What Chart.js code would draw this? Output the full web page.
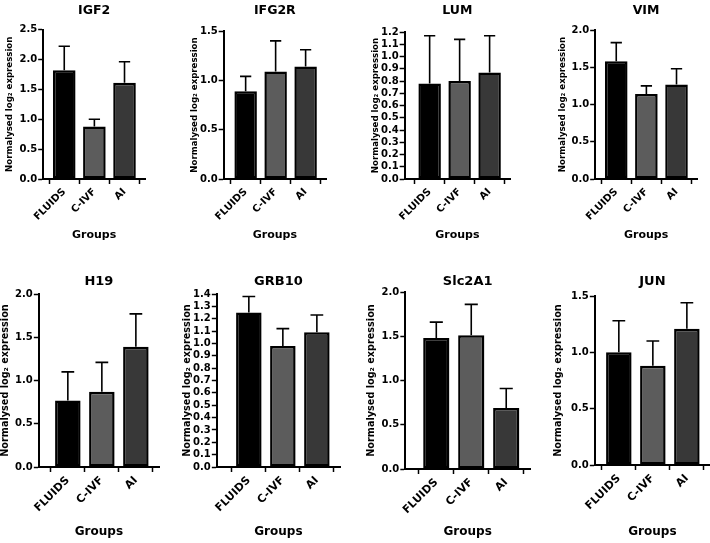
<!DOCTYPE html>
<html>
<head>
<meta charset="utf-8">
<script src="https://cdn.jsdelivr.net/npm/chart.js@4.4.1/dist/chart.umd.min.js"></script>
<style>
  html, body { margin: 0; padding: 0; background: #fff; overflow: hidden; }
  body { width: 710px; height: 543px; position: relative; }
  canvas { position: absolute; }
</style>
</head>
<body>
<script>
// ---------- data ----------
const categories = ['FLUIDS', 'C-IVF', 'AI'];
const geneNames = ['IGF2', 'IFG2R', 'LUM', 'VIM', 'H19', 'GRB10', 'Slc2A1', 'JUN'];

const igf2Mean   = [1.82, 0.88, 1.61];  const igf2Sd   = [0.40, 0.12, 0.35];
const ifg2rMean  = [0.89, 1.09, 1.14];  const ifg2rSd  = [0.15, 0.31, 0.17];
const lumMean    = [0.78, 0.80, 0.87];  const lumSd    = [0.39, 0.34, 0.30];
const vimMean    = [1.58, 1.14, 1.27];  const vimSd    = [0.25, 0.11, 0.21];
const h19Mean    = [0.77, 0.87, 1.39];  const h19Sd    = [0.33, 0.34, 0.38];
const grb10Mean  = [1.25, 0.98, 1.09];  const grb10Sd  = [0.13, 0.14, 0.14];
const slc2a1Mean = [1.48, 1.51, 0.69];  const slc2a1Sd = [0.18, 0.35, 0.22];
const junMean    = [1.00, 0.88, 1.21];  const junSd    = [0.28, 0.22, 0.23];

const yAxisMax  = [2.5, 1.5, 1.2, 2.0, 2.0, 1.4, 2.0, 1.5];
const yAxisStep = [0.5, 0.5, 0.1, 0.5, 0.5, 0.1, 0.5, 0.5];

const yTitle = 'Normalysed log\u2082 expression';
const xTitle = 'Groups';

const allMeans = [igf2Mean, ifg2rMean, lumMean, vimMean, h19Mean, grb10Mean, slc2a1Mean, junMean];
const allSds   = [igf2Sd, ifg2rSd, lumSd, vimSd, h19Sd, grb10Sd, slc2a1Sd, junSd];

// ---------- layout (page pixel geometry of each panel) ----------
const barColors = ['#000000', '#5c5c5c', '#383838'];
const FONT = '"DejaVu Sans", "Liberation Sans", Arial, sans-serif';

const rows = [
  { ct: 0,   cb: 250, titleC: 11,  groupsC: 235, titleSize: 12.5, yTitleSize: 8.6, tickSize: 10, xTickSize: 10, groupsSize: 11 },
  { ct: 270, cb: 543, titleC: 282, groupsC: 532, titleSize: 13,   yTitleSize: 9.7, tickSize: 10, xTickSize: 11, groupsSize: 12 }
];
const panelLayout = [
  { row: 0, pl: 43,  pt: 29.5, pb: 179, sp: 30, fo: 21, yc: 10 },
  { row: 0, pl: 224, pt: 31,   pb: 179, sp: 30, fo: 22, yc: 195.5 },
  { row: 0, pl: 405, pt: 32,   pb: 179, sp: 30, fo: 25, yc: 376.5 },
  { row: 0, pl: 595, pt: 30,   pb: 179, sp: 30, fo: 21, yc: 563 },
  { row: 1, pl: 39,  pt: 294,  pb: 467, sp: 34, fo: 29, yc: 6 },
  { row: 1, pl: 217, pt: 294,  pb: 467, sp: 34, fo: 32, yc: 188 },
  { row: 1, pl: 405, pt: 292,  pb: 469, sp: 35, fo: 31, yc: 371.5 },
  { row: 1, pl: 595, pt: 296,  pb: 465, sp: 34, fo: 24, yc: 559 }
];
const X_MAX_EXTRA = 0.68;

// ---------- error bar plugin ----------
const errorBarsPlugin = {
  id: 'errorBars',
  afterDatasetsDraw(chart, args, opts) {
    const ctx = chart.ctx;
    const yScale = chart.scales.y;
    const ds = chart.data.datasets[0];
    const meta = chart.getDatasetMeta(0);
    ctx.save();
    ctx.strokeStyle = '#000';
    ctx.lineWidth = 1.6;
    meta.data.forEach((bar, i) => {
      const top = yScale.getPixelForValue(ds.data[i].y + opts.sd[i]);
      const half = bar.width / 4;
      ctx.beginPath();
      ctx.moveTo(bar.x, bar.y);
      ctx.lineTo(bar.x, top);
      ctx.moveTo(bar.x - half, top);
      ctx.lineTo(bar.x + half, top);
      ctx.stroke();
    });
    ctx.restore();
  }
};

panelLayout.forEach((L, k) => {
  const R = rows[L.row];
  const yLineH = R.yTitleSize * 1.2;
  const cl = L.yc - yLineH / 2;
  const xMin = -L.fo / L.sp;
  const pr = L.pl + L.fo + 2 * L.sp + X_MAX_EXTRA * L.sp;
  const padRight = 12;
  const cr = pr + padRight;
  const width = Math.round(cr - cl);
  const height = R.cb - R.ct;

  const canvas = document.createElement('canvas');
  canvas.width = width;
  canvas.height = height;
  canvas.style.width = width + 'px';
  canvas.style.height = height + 'px';
  canvas.style.left = cl + 'px';
  canvas.style.top = R.ct + 'px';
  document.body.appendChild(canvas);

  const titleLH = R.titleSize * 1.2;
  const titlePadTop = R.titleC - R.ct - titleLH / 2;
  const titlePadBottom = L.pt - R.ct - titlePadTop - titleLH;
  const groupsLH = R.groupsSize * 1.2;
  const groupsPadBottom = R.cb - R.groupsC - groupsLH / 2;

  const means = allMeans[k];
  new Chart(canvas, {
    type: 'bar',
    data: {
      datasets: [{
        data: means.map((v, i) => ({ x: i, y: v })),
        backgroundColor: barColors,
        borderColor: '#000',
        borderWidth: 2.5,
        borderSkipped: false,
        categoryPercentage: 1,
        barPercentage: 0.75
      }]
    },
    plugins: [errorBarsPlugin],
    options: {
      responsive: false,
      animation: false,
      devicePixelRatio: 1,
      layout: { padding: { left: 0, right: cr - pr, top: 0, bottom: 0 } },
      plugins: {
        legend: { display: false },
        tooltip: { enabled: false },
        errorBars: { sd: allSds[k] },
        title: {
          display: true,
          text: geneNames[k],
          color: '#000',
          fullSize: false,
          font: { family: FONT, size: R.titleSize, weight: 'bold', lineHeight: 1.2 },
          padding: { top: titlePadTop, bottom: titlePadBottom }
        }
      },
      scales: {
        x: {
          type: 'linear',
          min: xMin,
          max: 2 + X_MAX_EXTRA,
          offset: false,
          afterBuildTicks: (scale) => { scale.ticks = categories.map((c, i) => ({ value: i })); },
          afterFit: (scale) => { scale.height = R.cb - L.pb; },
          ticks: {
            autoSkip: false,
            minRotation: 45,
            maxRotation: 45,
            padding: 2,
            color: '#000',
            font: { family: FONT, size: R.xTickSize, weight: 'bold' },
            callback: (v) => categories[v]
          },
          grid: {
            display: true,
            drawOnChartArea: false,
            drawTicks: true,
            tickLength: 5,
            tickWidth: 1.5,
            tickColor: '#000'
          },
          border: { display: true, color: '#000', width: 2 },
          title: {
            display: true,
            text: xTitle,
            color: '#000',
            font: { family: FONT, size: R.groupsSize, weight: 'bold', lineHeight: 1.2 },
            padding: { top: 0, bottom: groupsPadBottom }
          }
        },
        y: {
          min: 0,
          max: yAxisMax[k],
          afterFit: (scale) => { scale.width = L.pl - cl; },
          ticks: {
            stepSize: yAxisStep[k],
            autoSkip: false,
            padding: 1,
            color: '#000',
            font: { family: FONT, size: R.tickSize, weight: 'bold' },
            callback: (v) => Number(v).toFixed(1)
          },
          grid: {
            display: true,
            drawOnChartArea: false,
            drawTicks: true,
            tickLength: 5,
            tickWidth: 1.5,
            tickColor: '#000'
          },
          border: { display: true, color: '#000', width: 2 },
          title: {
            display: true,
            text: yTitle,
            color: '#000',
            font: { family: FONT, size: R.yTitleSize, weight: 'bold', lineHeight: 1.2 },
            padding: { top: 0, bottom: 0 }
          }
        }
      }
    }
  });
});
</script>
</body>
</html>
